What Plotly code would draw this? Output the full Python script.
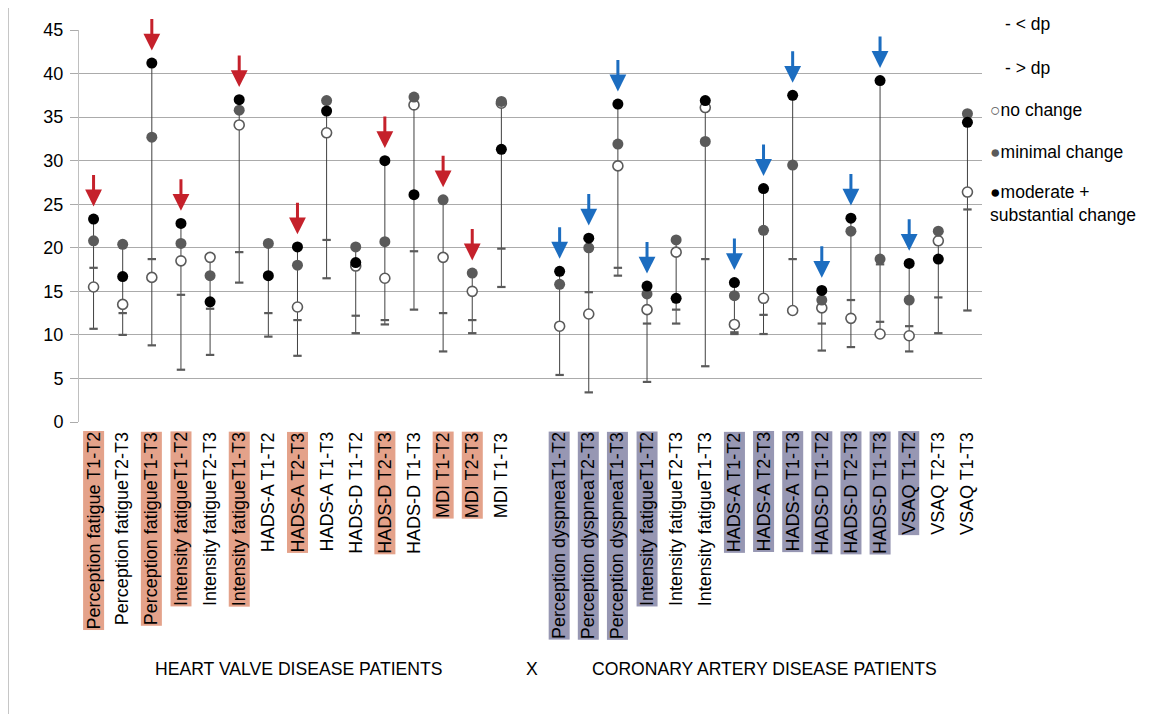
import plotly.graph_objects as go

# ---------------- data ----------------
labels = [
    "Perception fatigue T1-T2", "Perception fatigueT2-T3", "Perception fatigueT1-T3",
    "Intensity fatigueT1-T2", "Intensity fatigueT2-T3", "Intensity fatigueT1-T3",
    "HADS-A T1-T2", "HADS-A T2-T3", "HADS-A T1-T3",
    "HADS-D T1-T2", "HADS-D T2-T3", "HADS-D T1-T3",
    "MDI T1-T2", "MDI T2-T3", "MDI T1-T3",
    "",
    "Perception dyspneaT1-T2", "Perception dyspneaT2-T3", "Perception dyspneaT1-T3",
    "Intensity fatigueT1-T2", "Intensity fatigueT2-T3", "Intensity fatigueT1-T3",
    "HADS-A T1-T2", "HADS-A T2-T3", "HADS-A T1-T3",
    "HADS-D T1-T2", "HADS-D T2-T3", "HADS-D T1-T3",
    "VSAQ T1-T2", "VSAQ T2-T3", "VSAQ T1-T3",
]
# group: 0 = heart valve disease, 1 = coronary artery disease, None = gap
group = [0] * 15 + [None] + [1] * 15
# categories flagged (arrow + highlighted label)
flagged = [1, 0, 1, 1, 0, 1, 0, 1, 0, 0, 1, 0, 1, 1, 0,
           0,
           1, 1, 1, 1, 0, 0, 1, 1, 1, 1, 1, 1, 1, 0, 0]

no_change = [15.5, 13.5, 16.6, 18.5, 18.9, 34.1, None, 13.2, 33.2, 17.9, 16.5, 36.4, 18.9, 15.0, 36.6,
             None,
             11.0, 12.4, 29.4, 12.9, 19.5, 36.1, 11.2, 14.2, 12.8, 13.1, 11.9, 10.1, 9.9, 20.8, 26.4]
minimal_change = [20.8, 20.4, 32.7, 20.5, 16.8, 35.8, 20.5, 18.0, 36.9, 20.1, 20.7, 37.3, 25.5, 17.1, 36.8,
                  None,
                  15.8, 20.0, 31.9, 14.7, 20.9, 32.2, 14.5, 22.0, 29.5, 14.0, 21.9, 18.7, 14.0, 21.9, 35.4]
moderate_change = [23.3, 16.7, 41.2, 22.8, 13.8, 37.0, 16.8, 20.1, 35.7, 18.3, 30.0, 26.1, None, None, 31.3,
                   None,
                   17.3, 21.1, 36.5, 15.6, 14.2, 36.9, 16.0, 26.8, 37.5, 15.1, 23.4, 39.2, 18.2, 18.7, 34.4]
dp_less = [10.7, 10.0, 8.8, 6.0, 7.7, 16.0, 9.8, 7.6, 16.5, 10.2, 11.2, 12.9, 8.1, 10.2, 15.5,
           None,
           5.4, 3.4, 16.8, 4.6, 11.3, 6.4, 10.1, 10.1, 12.8, 8.2, 8.6, 11.5, 8.1, 10.2, 12.8]
dp_more = [17.7, 12.5, 18.7, 14.6, 13.0, 19.5, 12.5, 11.7, 20.9, 12.2, 11.7, 19.6, 12.5, 11.7, 19.9,
           None,
           15.8, 14.9, 17.7, 11.3, 12.9, 18.7, 10.3, 12.3, 18.7, 11.3, 14.0, 18.1, 11.0, 14.3, 24.4]

y_ticks = [0, 5, 10, 15, 20, 25, 30, 35, 40, 45]
group_titles = ["HEART VALVE DISEASE PATIENTS", "X", "CORONARY ARTERY DISEASE PATIENTS"]
legend_texts = ["- < dp", "- > dp", "no change", "minimal change", "moderate +<br>substantial change"]

# ---------------- styles ----------------
OFF = 8                      # page body margin of the html page
W, H = 1162 - OFF, 714 - OFF
L, R, T, B = 71, 180, 20, 292
PW, PH = W - L - R, H - T - B
FONT = "Liberation Sans, Arial, sans-serif"
arrow_colors = {0: "#C5212B", 1: "#1C6DC0"}
box_colors = {0: "#E4A28A", 1: "#9797B3"}
GRAY = "#5A5A5A"

x = list(range(len(labels)))


def px_x(p):
    """screen x pixel -> paper coordinate"""
    return (p - OFF - L) / PW


def px_y(p):
    """screen y pixel -> paper coordinate"""
    return (H - B - (p - OFF)) / PH


fig = go.Figure()

# high-low lines spanning all series of a category
lx, ly = [], []
for i in x:
    vals = [v[i] for v in (no_change, minimal_change, moderate_change, dp_less, dp_more) if v[i] is not None]
    if vals:
        lx += [i, i, None]
        ly += [min(vals), max(vals), None]
fig.add_trace(go.Scatter(x=lx, y=ly, mode="lines", line=dict(color="#404040", width=1),
                         showlegend=False, hoverinfo="skip"))

for vals, name in ((dp_less, "< dp"), (dp_more, "> dp")):
    fig.add_trace(go.Scatter(x=x, y=vals, mode="markers", name=name, showlegend=False,
                             marker=dict(symbol="line-ew", size=6,
                                         line=dict(color=GRAY, width=2.2))))

fig.add_trace(go.Scatter(x=x, y=no_change, mode="markers", name="no change", showlegend=False,
                         marker=dict(symbol="circle", size=10, color="white",
                                     line=dict(color=GRAY, width=1.6))))
fig.add_trace(go.Scatter(x=x, y=minimal_change, mode="markers", name="minimal change", showlegend=False,
                         marker=dict(symbol="circle", size=11, color=GRAY, line=dict(width=0))))
fig.add_trace(go.Scatter(x=x, y=moderate_change, mode="markers", name="moderate + substantial change",
                         showlegend=False,
                         marker=dict(symbol="circle", size=11, color="black", line=dict(width=0))))

annotations = []
# arrows above flagged categories
for i in x:
    if flagged[i] and group[i] is not None:
        top = max(v[i] for v in (no_change, minimal_change, moderate_change) if v[i] is not None)
        annotations.append(dict(x=i, y=top + 1.45, xref="x", yref="y", ax=0, ay=-33,
                                showarrow=True, arrowhead=2, arrowwidth=3, arrowsize=1.12,
                                arrowcolor=arrow_colors[group[i]], text=""))

# rotated category labels
for i, lab in enumerate(labels):
    if not lab:
        continue
    bg = box_colors[group[i]] if flagged[i] else "rgba(0,0,0,0)"
    annotations.append(dict(x=i, y=px_y(431), xref="x", yref="paper", text=lab, textangle=-90,
                            showarrow=False, xanchor="center", yanchor="top",
                            bgcolor=bg, borderpad=0,
                            font=dict(family=FONT, size=18, color="black")))

# group titles
for txt, cx in zip(group_titles, (298, 532, 764.5)):
    annotations.append(dict(x=px_x(cx), y=px_y(670), xref="paper", yref="paper", text=txt,
                            showarrow=False, xanchor="center", yanchor="middle",
                            font=dict(family=FONT, size=17.6, color="black")))

# legend (text-style, as in the source)
leg_pos = [(1003, 22), (1003, 66), (988, 108), (988, 151), (988, 202)]
leg_sym = ["", "", '<span style="color:#5A5A5A">○</span>', '<span style="color:#5A5A5A">●</span>',
           '<span style="color:black">●</span>']
for txt, sym, (px, py) in zip(legend_texts, leg_sym, leg_pos):
    annotations.append(dict(x=px_x(px), y=px_y(py), xref="paper", yref="paper", text=sym + txt,
                            showarrow=False, xanchor="left", yanchor="middle", align="left",
                            font=dict(family=FONT, size=17.5, color="black")))

shapes = [dict(type="rect", xref="paper", yref="paper", x0=px_x(8), y0=px_y(730), x1=px_x(1180),
               y1=px_y(5), line=dict(color="#A0A0A0", width=1.2), fillcolor="rgba(0,0,0,0)",
               layer="below")]

fig.update_layout(
    width=W, height=H,
    margin=dict(l=L, r=R, t=T, b=B, pad=0),
    paper_bgcolor="white", plot_bgcolor="white",
    showlegend=False,
    font=dict(family=FONT, size=17, color="black"),
    annotations=annotations,
    shapes=shapes,
    xaxis=dict(range=[-0.5, len(labels) - 0.5], showgrid=False, zeroline=False,
               showticklabels=False, ticks="", showline=False, fixedrange=True),
    yaxis=dict(range=[0, 45], tickvals=y_ticks, showgrid=True, gridcolor="#ABABAB", gridwidth=1,
               zeroline=False, showline=True, linecolor="#BFBFBF", linewidth=1,
               ticks="outside", ticklen=8, tickcolor="#ABABAB", ticklabelstandoff=3,
               tickfont=dict(family=FONT, size=18, color="black"), fixedrange=True),
)

fig.write_html("out.html")
